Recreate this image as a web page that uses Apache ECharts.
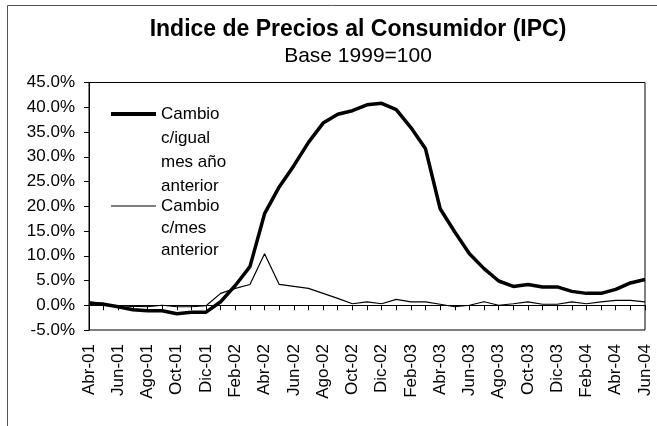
<!DOCTYPE html>
<html>
<head>
    <meta charset="UTF-8">
    <title>IPC</title>
    <script src="https://cdn.jsdelivr.net/npm/echarts@6/dist/echarts.min.js"></script>
    <style>
        html, body { margin: 0; padding: 0; background: #fff; }
        #main { width: 657px; height: 426px; }
    </style>
</head>
<body>
<div id="main"></div>
<script type="text/javascript">
    // meses (Abr-01 .. Jun-04)
    var meses = ['Abr-01', 'May-01', 'Jun-01', 'Jul-01', 'Ago-01', 'Sep-01', 'Oct-01', 'Nov-01', 'Dic-01',
        'Ene-02', 'Feb-02', 'Mar-02', 'Abr-02', 'May-02', 'Jun-02', 'Jul-02', 'Ago-02', 'Sep-02', 'Oct-02', 'Nov-02', 'Dic-02',
        'Ene-03', 'Feb-03', 'Mar-03', 'Abr-03', 'May-03', 'Jun-03', 'Jul-03', 'Ago-03', 'Sep-03', 'Oct-03', 'Nov-03', 'Dic-03',
        'Ene-04', 'Feb-04', 'Mar-04', 'Abr-04', 'May-04', 'Jun-04'];

    // variacion contra igual mes del año anterior (%)
    var cambioAnual = [0.4, 0.2, -0.3, -0.9, -1.1, -1.1, -1.7, -1.4, -1.4,
        0.7, 4.0, 7.8, 18.5, 23.9, 28.2, 32.9, 36.8, 38.6, 39.3, 40.5, 40.8,
        39.5, 35.9, 31.6, 19.5, 14.8, 10.4, 7.4, 4.9, 3.8, 4.2, 3.7, 3.7,
        2.8, 2.4, 2.4, 3.2, 4.5, 5.2];

    // variacion contra el mes anterior (%)
    var cambioMensual = [0.7, 0.4, -0.5, -0.2, -0.3, 0.0, -0.3, -0.3, -0.1,
        2.4, 3.4, 4.2, 10.4, 4.2, 3.8, 3.4, 2.4, 1.4, 0.3, 0.7, 0.3,
        1.2, 0.7, 0.7, 0.2, -0.3, 0.0, 0.7, 0.0, 0.3, 0.7, 0.2, 0.2,
        0.7, 0.3, 0.7, 1.0, 1.0, 0.7];

    var nombreAnual = 'Cambio c/igual mes año anterior';
    var nombreMensual = 'Cambio c/mes anterior';

    var fuente = '"Liberation Sans", Arial, sans-serif';

    var chart = echarts.init(document.getElementById('main'));

    var option = {
        animation: false,
        backgroundColor: '#fff',
        textStyle: { fontFamily: fuente, color: '#000' },
        title: [{
            text: 'Indice de Precios al Consumidor (IPC)',
            left: 358, top: 18, padding: 0, textAlign: 'center',
            textStyle: { fontFamily: fuente, fontSize: 23, fontWeight: 'bold', color: '#000' }
        }, {
            text: 'Base 1999=100',
            left: 358, top: 46, padding: 0, textAlign: 'center',
            textStyle: { fontFamily: fuente, fontSize: 21, fontWeight: 'normal', color: '#000' }
        }],
        graphic: [{
            // marco exterior del grafico
            type: 'rect', z: -1,
            shape: { x: 7.5, y: 5.5, width: 700, height: 500 },
            style: { fill: 'none', stroke: '#555', lineWidth: 1 }
        }],
        // lineas en blanco al inicio para que la primera linea del texto quede a la altura del icono
        legend: [{
            data: [nombreAnual],
            icon: 'rect',
            left: 111, top: 30, padding: 0,
            itemWidth: 45, itemHeight: 4,
            formatter: function () { return '\n\n\nCambio\nc/igual\nmes año\nanterior'; },
            textStyle: { fontFamily: fuente, fontSize: 17, color: '#000', lineHeight: 24 }
        }, {
            data: [nombreMensual],
            icon: 'rect',
            left: 111, top: 151, padding: 0,
            itemWidth: 45, itemHeight: 1.2,
            formatter: function () { return '\n\nCambio\nc/mes\nanterior'; },
            textStyle: { fontFamily: fuente, fontSize: 17, color: '#000', lineHeight: 22 }
        }],
        grid: {
            left: 89, right: 12, top: 82.5, bottom: 96,
            show: true, borderColor: '#000', borderWidth: 1
        },
        xAxis: [{
            type: 'category',
            data: meses,
            boundaryGap: false,
            axisLine: { onZero: true, lineStyle: { color: '#000', width: 1 } },
            axisTick: { show: true, interval: 0, length: 5, lineStyle: { color: '#000' } },
            axisLabel: { show: false },
            splitLine: { show: false }
        }, {
            type: 'category',
            data: meses,
            position: 'bottom',
            boundaryGap: false,
            axisLine: { show: false, onZero: false },
            axisTick: { show: false },
            axisLabel: {
                interval: 1, rotate: 90, margin: 14,
                fontFamily: fuente, fontSize: 17, color: '#000'
            },
            splitLine: { show: false }
        }],
        yAxis: {
            type: 'value',
            min: -5, max: 45, interval: 5,
            axisLine: { show: true, lineStyle: { color: '#000' } },
            axisTick: { show: true, length: 5, lineStyle: { color: '#000' } },
            axisLabel: {
                margin: 14, fontFamily: fuente, fontSize: 17, color: '#000',
                formatter: function (v) { return v.toFixed(1) + '%'; }
            },
            splitLine: { show: false }
        },
        series: [{
            name: nombreAnual,
            type: 'line',
            xAxisIndex: 0,
            data: cambioAnual,
            symbol: 'none',
            lineStyle: { color: '#000', width: 3.5 },
            itemStyle: { color: '#000' }
        }, {
            name: nombreMensual,
            type: 'line',
            xAxisIndex: 0,
            data: cambioMensual,
            symbol: 'none',
            lineStyle: { color: '#000', width: 1.2 },
            itemStyle: { color: '#000' }
        }]
    };

    chart.setOption(option);
</script>
</body>
</html>
